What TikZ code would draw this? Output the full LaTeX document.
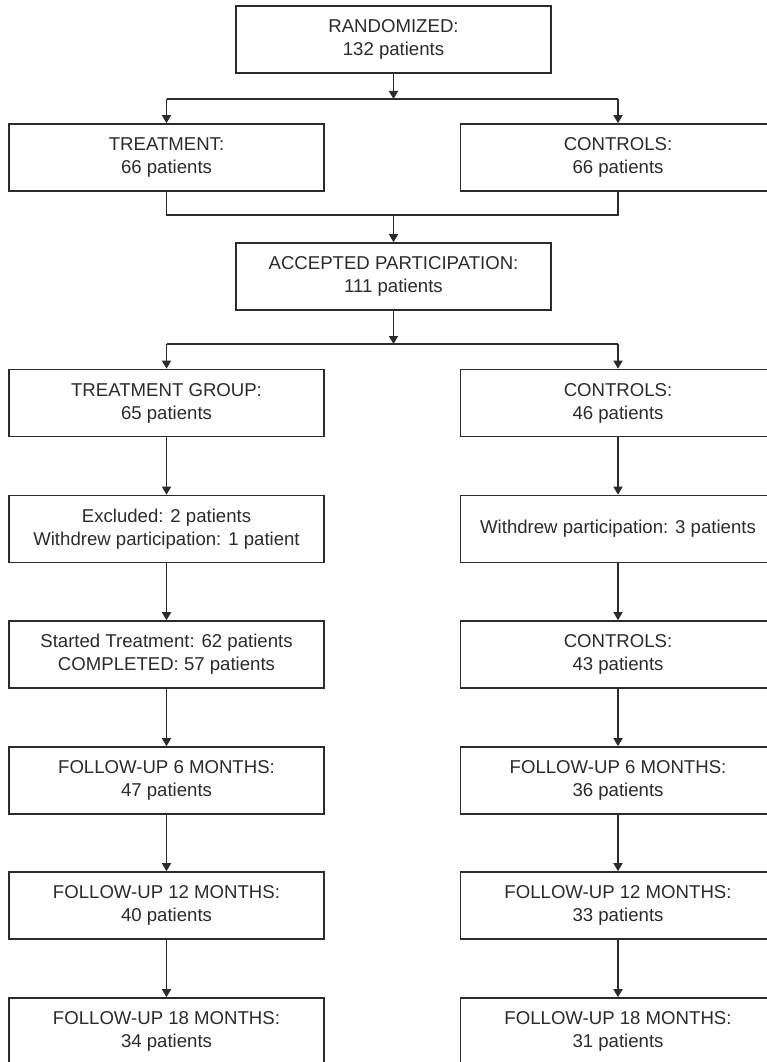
\documentclass[tikz,border=0pt]{standalone}
\usepackage{fontspec}
\setmainfont{Liberation Sans}
\usetikzlibrary{arrows.meta}

\definecolor{ink}{HTML}{2B2B2B}

\tikzset{
  box/.style={draw=ink, line width=1.6pt, rectangle, minimum width=315pt,
    minimum height=67pt, inner sep=0pt, align=center, text=ink,
    font=\fontsize{18.6}{23}\selectfont},
  link/.style={draw=ink, line width=1.5pt},
  arr/.style={link, -{Triangle[length=8pt,width=9pt]}},
}

\begin{document}
\begin{tikzpicture}[x=1pt,y=-1pt]
  \clip (0,0) rectangle (767,1062);
  \fill[white] (0,0) rectangle (767,1062);

  % top of the flow
  \node[box] (rand) at (393.5,39.5) {RANDOMIZED:\\132 patients};
  \node[box] (treat) at (166.5,157.5) {TREATMENT:\\66 patients};
  \node[box] (ctrl) at (618,157.5) {CONTROLS:\\66 patients};
  \node[box] (acc) at (393.5,276.5) {ACCEPTED PARTICIPATION:\\111 patients};

  % left column
  \node[box] (tg)   at (166.5,403)    {TREATMENT GROUP:\\65 patients};
  \node[box] (excl) at (166.5,529)    {Excluded: 2 patients\\Withdrew participation: 1 patient};
  \node[box] (st)   at (166.5,654.5)  {Started Treatment: 62 patients\\COMPLETED: 57 patients};
  \node[box] (lsix) at (166.5,780.5)  {FOLLOW-UP 6 MONTHS:\\47 patients};
  \node[box] (ltw)  at (166.5,905.5)  {FOLLOW-UP 12 MONTHS:\\40 patients};
  \node[box] (leig) at (166.5,1031.5) {FOLLOW-UP 18 MONTHS:\\34 patients};

  % right column
  \node[box] (cg)   at (618,403)    {CONTROLS:\\46 patients};
  \node[box] (wd)   at (618,529)    {Withdrew participation: 3 patients};
  \node[box] (cc)   at (618,654.5)  {CONTROLS:\\43 patients};
  \node[box] (rsix) at (618,780.5)  {FOLLOW-UP 6 MONTHS:\\36 patients};
  \node[box] (rtw)  at (618,905.5)  {FOLLOW-UP 12 MONTHS:\\33 patients};
  \node[box] (reig) at (618,1031.5) {FOLLOW-UP 18 MONTHS:\\31 patients};

  % junction points
  \coordinate (s1) at (393.5,99);
  \coordinate (m1) at (393.5,215);
  \coordinate (s2) at (393.5,344);

  % randomisation split
  \draw[arr] (rand.south) -- (s1);
  \draw[link] (s1 -| treat.north) -- (s1 -| ctrl.north);
  \draw[arr] (s1 -| treat.north) -- (treat.north);
  \draw[arr] (s1 -| ctrl.north) -- (ctrl.north);

  % merge into accepted participation
  \draw[link] (treat.south) |- (m1) -| (ctrl.south);
  \draw[arr] (m1) -- (acc.north);

  % second split
  \draw[arr] (acc.south) -- (s2);
  \draw[link] (s2 -| tg.north) -- (s2 -| cg.north);
  \draw[arr] (s2 -| tg.north) -- (tg.north);
  \draw[arr] (s2 -| cg.north) -- (cg.north);

  % columns
  \foreach \a/\b in {tg/excl, excl/st, st/lsix, lsix/ltw, ltw/leig,
                     cg/wd, wd/cc, cc/rsix, rsix/rtw, rtw/reig}
    \draw[arr] (\a.south) -- (\b.north);
\end{tikzpicture}
\end{document}
